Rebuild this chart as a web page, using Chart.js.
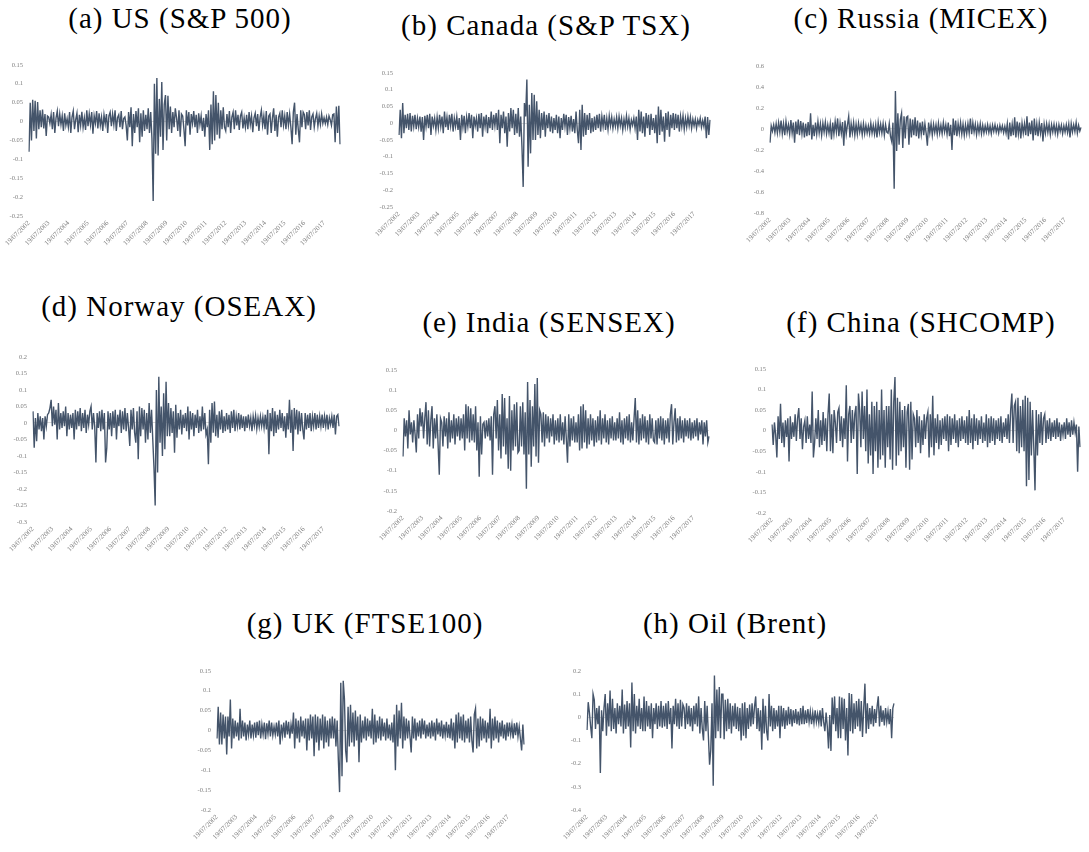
<!DOCTYPE html>
<html><head><meta charset="utf-8">
<script src="https://cdn.jsdelivr.net/npm/chart.js@4.4.1/dist/chart.umd.min.js"></script>
<style>
html,body{margin:0;padding:0;overflow:hidden;background:#fff}
body{width:1089px;height:852px;position:relative}
.t{position:absolute;white-space:nowrap;transform:translateX(-50%);color:#000;font-family:"Liberation Serif",serif;font-size:29px;line-height:29px;letter-spacing:1px}
canvas{position:absolute}
</style></head><body>
<script>
// Tick labels (one per year) on the date axis
const yearLabels = ['19/07/2002','19/07/2003','19/07/2004','19/07/2005','19/07/2006','19/07/2007','19/07/2008','19/07/2009','19/07/2010','19/07/2011','19/07/2012','19/07/2013','19/07/2014','19/07/2015','19/07/2016','19/07/2017'];
const PER_YEAR = 16; // sampled observations per year

const titles = ['(a) US (S&P 500)','(b) Canada (S&P TSX)','(c) Russia (MICEX)','(d) Norway (OSEAX)','(e) India (SENSEX)','(f) China (SHCOMP)','(g) UK (FTSE100)','(h) Oil (Brent)'];

// Returns, in thousandths (e.g. -80 = -0.080)
const us = [
-80,50,-50,58,-25,55,-45,52,-20,30,-15,32,-18,20,-38,15,
12,-5,18,-20,25,-30,10,28,-12,20,-8,15,-25,22,-10,8,
-15,25,-30,12,28,-20,5,22,-28,18,-10,26,-15,10,-22,30,
-12,20,-8,25,-32,15,-5,28,-18,22,-10,12,-25,18,-6,20,
-30,15,25,-12,20,-8,30,-25,10,18,-15,28,-20,8,12,-10,
-50,25,-15,38,-65,20,-30,28,-15,35,-55,22,-40,30,-25,18,
-20,35,-30,25,-45,-210,100,-85,115,-90,60,-40,105,-75,45,70,
-50,68,-20,40,-30,25,-15,35,10,-25,30,-40,20,15,-20,-65,
30,-10,25,-35,20,-5,28,-15,18,-30,22,-8,15,-25,10,-40,
20,-15,30,-75,45,-60,80,-50,70,-35,50,-45,30,-20,38,-15,
-25,20,-15,28,-30,12,25,-20,30,-10,18,-22,15,25,-18,10,
-15,18,-20,25,-8,15,-28,10,22,-12,20,-25,12,30,-10,15,
-20,28,-35,15,20,-30,10,35,-25,18,-40,12,22,-15,30,-10,
15,-20,25,-10,20,-15,-60,25,50,-35,20,-20,-55,30,-15,25,
18,-20,25,-10,30,-22,12,20,-15,8,22,-12,15,-8,20,-5,
10,-5,12,-8,15,5,-10,18,20,-55,40,-30,42,-60];

const canada = [
-35,40,-45,60,-30,25,-15,28,-20,30,-25,22,-10,25,-18,15,
-12,20,-25,18,-50,22,-10,25,-15,28,-35,20,-8,15,-20,18,
-15,25,-10,20,-30,35,-12,18,-20,25,-8,28,-25,15,-10,20,
-20,15,-50,25,-12,22,-30,18,-10,30,-15,25,-45,20,-8,15,
-25,28,-15,30,-40,20,-10,25,-30,18,-15,35,-20,25,-8,30,
-20,40,-60,25,-15,35,-30,20,-70,30,-25,45,-15,40,-35,28,
-30,45,-40,20,-70,-190,60,20,130,-130,55,-90,90,-50,85,-50,
65,-35,40,-45,30,-20,35,-40,25,-15,30,-25,20,-30,15,-20,
25,-30,20,-45,15,-20,28,-10,25,-35,18,-15,22,-25,12,-30,
35,-20,-60,40,-80,55,-40,30,-35,25,-20,30,-30,15,-25,20,
-20,25,-15,28,-25,20,-10,25,-20,15,-18,22,-8,18,-15,12,
-10,18,-15,20,-8,15,-20,12,-12,22,-10,15,-18,10,-6,15,
-15,20,-50,40,-25,35,-30,20,-40,30,-15,25,-35,28,-20,15,
-30,25,-60,50,-35,40,-25,20,-55,30,-20,35,-40,25,-15,30,
-20,28,-15,25,-25,20,-10,22,-18,15,-12,20,-8,18,-15,12,
-8,12,-15,10,-5,15,-12,8,-10,20,-45,18,-35,10];

const russia = [
-130,30,-20,40,-35,50,-40,60,-30,80,-45,50,-60,70,-30,40,
-50,85,-40,60,-130,70,-50,90,-60,75,-45,60,-80,50,-70,65,
-60,150,-100,40,-70,60,-50,70,-40,50,-60,55,-30,65,-45,40,
-40,50,-100,60,-50,70,-30,100,-70,55,-40,65,-160,80,-50,40,
120,-80,50,-40,60,-60,45,-50,55,-30,40,-55,50,-45,35,-40,
30,-45,55,-40,35,-50,40,-80,60,-35,45,-40,50,-60,40,-30,
-40,50,-70,-120,60,-570,360,-210,150,-150,90,150,-180,120,-90,110,
120,-150,100,-80,90,-60,110,-70,80,-90,60,-50,70,-60,50,-40,
-160,60,-40,50,-60,45,-35,40,-50,55,-40,35,-45,60,-30,40,
-50,60,-70,40,-200,100,-60,80,-70,50,-40,60,-50,45,-60,40,
-45,50,-40,100,-50,60,-30,45,-55,40,-35,50,-45,35,-40,30,
-30,40,-35,30,-45,35,-25,40,-30,25,-40,35,-20,30,-35,25,
-40,50,-100,60,-70,45,-60,110,-80,70,-50,60,-90,55,-40,50,
-60,120,-70,60,-50,80,-110,100,-60,50,-70,60,-40,55,-120,45,
-40,50,-35,45,-55,40,-30,45,-40,35,-50,40,-25,35,-45,30,
-30,40,-35,45,-80,50,-30,40,-25,60,-40,35,-20,15];

const norway = [
35,-75,15,-55,30,-20,20,-25,15,-50,20,-10,25,30,45,70,
-10,50,-5,40,-50,60,-20,30,-15,35,-10,50,-40,30,-20,25,
-15,30,-50,40,-20,35,-10,45,-25,30,-15,40,-30,25,-5,35,
50,-20,30,-10,-120,30,-15,35,-25,40,-20,30,-120,-75,35,-20,
30,-40,35,-15,40,-50,25,-10,40,-30,35,-20,45,-25,30,-15,
-70,40,-20,45,-30,-60,35,-110,50,-40,45,-20,40,-60,30,-50,
60,-30,40,-50,-135,-250,100,-150,140,-60,50,-100,90,-80,125,-40,
60,-40,45,-30,35,-90,55,-45,30,-20,40,-35,25,-15,30,-25,
50,-50,35,-20,30,-40,25,-15,40,-30,20,-25,50,-20,30,-35,
-20,-125,40,-60,60,-30,65,-40,25,-45,35,-20,40,-30,20,-25,
30,-20,25,-30,35,-15,40,-25,20,-10,30,-20,25,-15,20,-25,
20,-15,25,-10,15,-25,20,-8,22,-18,15,-12,20,-10,18,-15,
25,-20,40,-95,30,-25,45,-40,35,-30,25,-20,40,-15,30,-25,
20,-45,30,-20,70,-30,40,-85,45,-20,40,-35,35,-25,30,-20,
-50,30,-20,25,-15,30,-25,20,-10,30,-20,25,-15,20,-10,25,
-15,20,-10,25,-20,15,-5,20,-15,25,-35,20,25,-10];

const india = [
-65,30,-15,25,-45,50,-10,20,-30,25,-10,-55,40,-20,55,10,
45,-20,30,70,-35,50,-40,25,60,-45,30,-20,40,-35,-110,30,
20,-40,35,-15,30,-45,45,-30,25,-20,40,-35,30,-15,35,-25,
30,-20,40,-50,65,-20,60,-30,55,-25,40,-30,60,-50,20,-115,
35,-60,15,20,-20,25,-15,30,-25,35,-110,40,60,-20,75,-50,
40,-70,90,-40,80,-60,30,-95,85,-100,50,-50,65,-40,70,-55,
-50,60,-40,70,-60,45,-145,120,-60,75,-90,60,-40,115,-65,130,
-80,50,40,-30,45,-40,40,-20,35,-30,30,-15,40,-35,25,-25,
30,-30,40,-25,20,-35,35,-20,-80,40,-40,30,-25,35,-30,20,
-30,40,-50,60,-45,65,-30,50,-45,30,-35,40,-25,30,-40,25,
-30,35,-25,50,-35,30,-20,40,-30,25,-35,30,-20,35,-25,20,
-25,30,-20,45,-30,25,-35,30,-20,35,-25,40,-30,20,-25,30,
80,-30,50,-35,30,-25,40,-20,35,-30,25,-35,40,-20,30,-25,
-30,25,-35,30,-20,35,-25,30,-35,25,-20,30,-30,40,65,-35,
20,55,-30,30,-25,35,-20,25,-30,30,-15,25,-20,30,-25,20,
-20,25,-15,30,-25,20,-10,25,-35,20,-15,25,-30,-15];

const china = [
15,-35,20,-10,-65,35,-20,65,-30,20,-40,25,-15,30,-75,35,
-20,20,-15,40,-25,30,55,-20,30,-45,10,25,-30,35,-20,15,
-30,95,-65,-30,30,-20,50,-40,25,-35,45,-25,30,-50,40,90,
-50,40,-55,50,20,-30,45,55,-25,35,-40,30,-20,110,-75,40,
60,-30,50,-20,40,60,-105,90,50,-40,95,-20,60,-50,100,-80,
40,-60,70,-105,60,-50,70,-90,50,-70,100,-60,50,-90,60,-40,
60,-70,100,-95,70,130,-85,80,-60,70,-50,50,-40,60,-90,45,
65,-95,70,-70,40,30,-40,50,-30,35,-55,25,-35,40,-20,30,
45,-65,40,-40,85,-60,30,-30,40,-45,25,-35,30,-20,35,-25,
40,-50,35,-35,30,-20,40,-30,25,-40,30,-25,35,-20,25,-30,
35,-35,50,-30,30,-45,40,-25,30,-35,25,-20,35,-30,20,-25,
40,-40,30,-30,35,-25,30,-35,25,-20,30,-25,35,-30,20,-15,
30,-20,40,-30,50,90,-30,60,70,-50,80,-55,60,-40,75,-50,
85,-135,80,-120,70,-60,50,-40,-145,50,-60,40,-30,45,-35,30,
40,-30,25,-20,30,-25,20,-15,25,-20,30,-15,20,-25,15,-10,
20,-20,30,-10,20,-15,25,-10,20,-5,15,-100,10,-40];

const uk = [
-20,60,-35,45,-35,40,-20,35,-60,35,-15,78,-45,30,-20,25,
-15,20,-25,55,-20,25,-15,20,-25,15,-10,25,-20,15,-12,20,
-18,22,-12,25,-20,15,-10,20,-22,18,-8,25,-15,20,-12,10,
-10,20,-15,25,-35,15,-12,20,-18,25,-10,22,-20,15,-8,45,
-45,30,-20,25,-30,35,-15,25,-20,30,-50,30,-25,40,-20,35,
-65,40,-30,35,-50,30,-25,40,-45,35,-30,25,-40,30,-20,35,
-20,30,-40,25,-75,-155,120,-115,125,80,-50,-80,60,-40,65,-30,
45,-40,50,-25,35,-80,40,-30,25,-20,35,-25,30,-15,25,-20,
55,-35,40,-30,25,-20,35,-25,30,-15,20,-25,30,-20,15,-25,
20,-30,40,-100,65,-40,50,-20,70,-45,35,-25,30,-20,25,-15,
-55,35,-20,30,-25,20,-15,25,-20,30,-10,25,-20,15,-15,20,
-20,25,-15,20,-25,30,-10,20,-15,25,-20,15,-12,22,-18,15,
-20,30,-25,20,-45,40,-30,45,-20,35,-25,40,-30,25,-20,30,
-30,35,-25,-55,40,55,-45,30,-40,35,-25,30,-20,25,-30,20,
-20,55,-45,30,-25,35,-20,25,-30,20,-15,25,-20,15,-25,20,
-15,20,-10,15,-20,18,-12,20,-15,10,-20,-50,15,-35];

const oil = [
-55,65,20,-40,-90,100,75,-50,40,-30,50,-240,30,-60,40,100,
-80,60,-40,115,-60,80,-50,40,-70,60,-30,50,-40,120,-70,55,
-50,70,-40,60,-130,150,-60,100,-70,50,-40,80,-50,40,-60,90,
-60,70,-40,50,-50,60,-90,40,-30,60,-50,50,-40,70,-45,50,
-40,60,-50,70,-30,40,-135,50,-30,80,-40,60,-50,75,-40,55,
40,-50,60,-30,50,-40,40,-60,50,-30,60,-40,90,-70,40,-50,
-100,70,-60,50,-80,-205,-140,60,-295,180,-90,120,-60,130,-90,100,
100,-95,75,-60,80,-50,60,-70,50,-40,60,-50,45,-60,40,-100,
60,-80,65,-90,40,-50,55,-40,60,-30,45,90,-50,40,-60,30,
-140,80,-70,50,-60,-100,100,-40,50,-60,40,-50,30,-40,50,-90,
50,-40,40,-50,30,-35,45,-30,35,-40,30,-25,35,-30,25,-35,
40,-30,50,-30,30,-25,35,-20,25,-30,20,-25,30,-20,15,-25,
30,-40,40,-20,-60,20,-40,-135,10,-145,85,-30,90,-60,40,-90,
90,-90,85,-50,80,-100,40,-165,105,-60,100,-70,60,-50,70,-40,
80,-60,70,-85,40,145,-70,60,-50,40,-30,50,-40,35,-25,45,
90,-40,50,-20,30,-35,40,-20,25,-30,35,-90,40,60];

const seriesList = [us, canada, russia, norway, india, china, uk, oil];
const yMin  = [-0.25, -0.25, -0.8, -0.3, -0.2, -0.2, -0.2, -0.4];
const yMax  = [0.15, 0.15, 0.6, 0.2, 0.15, 0.15, 0.15, 0.2];
const yStep = [0.05, 0.05, 0.2, 0.05, 0.05, 0.05, 0.05, 0.1];

// Layout (plot-area boxes and title anchors), kept apart from the data
const layoutBoxes = [
  {L:29,  R:348,  T:61,  B:216, tx:180, ty:28},
  {L:399, R:718,  T:69,  B:207, tx:546, ty:35},
  {L:770, R:1089, T:62,  B:213, tx:921, ty:28},
  {L:33,  R:347,  T:353, B:522, tx:179, ty:316},
  {L:403, R:717,  T:366, B:511, tx:549, ty:332},
  {L:772, R:1088, T:365, B:513, tx:921, ty:332},
  {L:217, R:532,  T:667, B:810, tx:365, ty:633},
  {L:587, R:902,  T:667, B:810, tx:735, ty:633}
];

const YW = 26, PT = 6, XH = 40, PR = 1;
const fam = '"Liberation Serif", serif';
const tickColor = '#7f7f7f';
const lineColor = '#44546a';

seriesList.forEach((vals, p) => {
  const box = layoutBoxes[p];
  const t = document.createElement('div');
  t.className = 't';
  t.textContent = titles[p];
  t.style.left = box.tx + 'px';
  t.style.top = (box.ty - 24) + 'px';
  document.body.appendChild(t);

  const cv = document.createElement('canvas');
  const w = box.R - box.L + YW + PR, h = box.B - box.T + PT + XH;
  cv.width = w; cv.height = h;
  cv.style.width = w + 'px'; cv.style.height = h + 'px';
  cv.style.left = (box.L - YW) + 'px';
  cv.style.top = (box.T - PT) + 'px';
  document.body.appendChild(cv);

  const cats = vals.map((_, i) => (i % PER_YEAR === 0 && yearLabels[i / PER_YEAR]) ? yearLabels[i / PER_YEAR] : '');

  new Chart(cv, {
    type: 'line',
    data: {
      labels: cats,
      datasets: [{
        data: vals.map(v => v / 1000),
        borderColor: lineColor,
        borderWidth: 1.4,
        pointRadius: 0,
        tension: 0,
        fill: false
      }]
    },
    options: {
      responsive: false,
      animation: false,
      events: [],
      layout: {padding: {top: PT, right: PR, left: 0, bottom: 0}},
      plugins: {legend: {display: false}, tooltip: {enabled: false}, title: {display: false}},
      scales: {
        x: {
          type: 'category',
          offset: false,
          grid: {display: false, drawTicks: false},
          border: {display: false},
          ticks: {autoSkip: false, maxRotation: 45, minRotation: 45, padding: 3,
                  font: {family: fam, size: 7}, color: tickColor,
                  callback: (v, i) => cats[i]},
          afterFit: s => { s.height = XH; }
        },
        y: {
          min: yMin[p], max: yMax[p],
          grid: {drawTicks: false, lineWidth: 1,
                 color: c => (c.tick && Math.abs(c.tick.value) < 1e-9) ? '#d9d9d9' : 'rgba(0,0,0,0)'},
          border: {display: false},
          ticks: {stepSize: yStep[p], padding: 6, font: {family: fam, size: 6.5}, color: tickColor,
                  callback: v => String(+Number(v).toFixed(2))},
          afterFit: s => { s.width = YW; }
        }
      }
    }
  });
});
</script>
</body></html>
